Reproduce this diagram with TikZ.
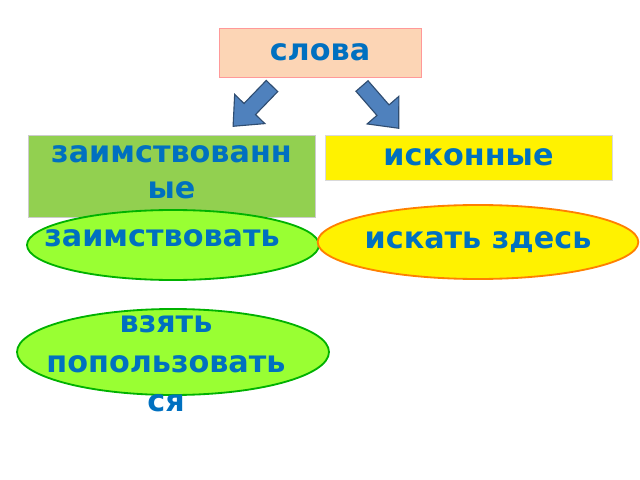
\documentclass[tikz,border=0pt]{standalone}
\usepackage{fontspec}
\setmainfont{DejaVu Sans}
\usetikzlibrary{positioning, shapes.geometric}
\definecolor{wordblue}{HTML}{0070C0}
\definecolor{peach}{HTML}{FCD5B5}
\definecolor{boxgreen}{HTML}{92D050}
\definecolor{ovalgreen}{HTML}{99FF33}
\definecolor{arrowblue}{HTML}{4F81BD}
\tikzset{
  word/.style={font=\bfseries\fontsize{21.5}{28}\selectfont, text=wordblue},
  box/.style={word, draw, minimum height=#1*0.025cm, inner sep=0pt},
  oval/.style={word, ellipse, draw, line width=1.3pt, inner sep=0pt},
  blockarrow/.style={fill=arrowblue, draw=arrowblue!60!black, line width=0.8pt}
}
\begin{document}
\begin{tikzpicture}[x=0.025cm, y=-0.025cm]
    \useasboundingbox (0,0) rectangle (640,480);
    % top box
    \node[box=49, draw=red!40, fill=peach, minimum width=202*0.025cm] (slova) at (320,52.5) {слова};
    % arrows
    \begin{scope}[shift={(272,86)}, rotate=226]
      \draw[blockarrow] (0,-8) -- (32,-8) -- (32,-21) -- (56,0) -- (32,21) -- (32,8) -- (0,8) -- cycle;
    \end{scope}
    \begin{scope}[shift={(362,86)}, rotate=-49]
      \draw[blockarrow] (0,-8) -- (32,-8) -- (32,-21) -- (56,0) -- (32,21) -- (32,8) -- (0,8) -- cycle;
    \end{scope}
    % category boxes
    \node[box=82, draw=gray!40, fill=boxgreen, minimum width=287*0.025cm] (borrowed) at (171.5,176) {};
    \node[word, align=center, anchor=north] (borrowedtext) at (171.5,141) {заимствованн\\[-3pt]ые};
    \node[box=45, draw=gray!30, fill=yellow, minimum width=287*0.025cm] (native) at (468.5,157.5) {исконные};
    % ovals
    \node[oval, draw=green!70!black, fill=ovalgreen, minimum width=292*0.025cm, minimum height=70*0.025cm] (borrow) at (173,245) {};
    \node[word] (borrowtext) at (162,238) {заимствовать};
    \node[oval, draw=orange, fill=yellow, minimum width=290*0.025cm, minimum height=74*0.025cm] (search) at (478,242) {искать здесь};
    \node[oval, draw=green!70!black, fill=ovalgreen, minimum width=312*0.025cm, minimum height=86*0.025cm] (take) at (173,352) {};
    \node[word, align=center] (taketext) at (166,364) {взять\\попользовать\\ся};
\end{tikzpicture}
\end{document}
